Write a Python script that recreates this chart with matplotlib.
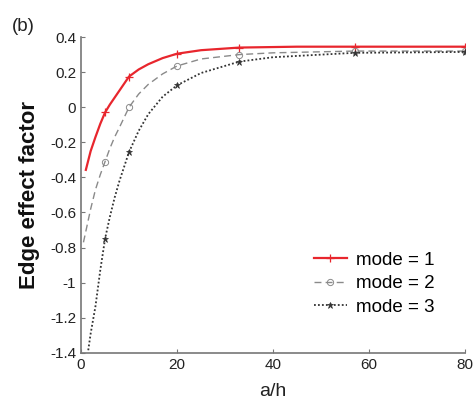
import matplotlib
matplotlib.use("Agg")
import matplotlib.pyplot as plt

plt.rcParams["font.family"] = ["Liberation Sans", "DejaVu Sans"]

# values
x_mode1 = [1, 2, 3, 4, 5, 6, 7, 8, 10, 12, 14, 17, 20, 25, 33, 45, 57, 80]
y_mode1 = [-0.357, -0.25, -0.17, -0.095, -0.03, 0.015, 0.055, 0.095, 0.175, 0.215, 0.245, 0.28, 0.305, 0.325, 0.34, 0.345, 0.345, 0.345]
x_mode2 = [0.5, 2, 3, 4, 5, 6, 7, 8, 10, 12, 14, 17, 20, 25, 33, 40, 57, 80]
y_mode2 = [-0.77, -0.58, -0.47, -0.385, -0.31, -0.235, -0.17, -0.115, 0.0, 0.075, 0.13, 0.19, 0.235, 0.275, 0.30, 0.31, 0.32, 0.32]
x_mode3 = [1.5, 2, 3, 4, 5, 6, 7, 8, 10, 12, 14, 17, 20, 25, 33, 40, 57, 80]
y_mode3 = [-1.385, -1.29, -1.135, -0.93, -0.75, -0.625, -0.515, -0.42, -0.255, -0.135, -0.04, 0.06, 0.125, 0.195, 0.26, 0.285, 0.31, 0.315]
marker_idx = [4, 8, 12, 14, 16, 17]

xticks = [0, 20, 40, 60, 80]
yticks = [0.4, 0.2, 0, -0.2, -0.4, -0.6, -0.8, -1, -1.2, -1.4]

fig = plt.figure(figsize=(4.74, 4.07), dpi=100)
ax = fig.add_axes([0.171, 0.133, 0.81, 0.776])

ax.plot(x_mode1, y_mode1, color="#e8262d", lw=1.6, marker="+", ms=6, mew=0.9,
        markevery=marker_idx, label="mode = 1")
ax.plot(x_mode2, y_mode2, color="#8a8a8a", lw=1.0, ls=(0, (5, 3)), marker="o", ms=4.5,
        mfc="none", mew=0.7, markevery=marker_idx, label="mode = 2")
ax.plot(x_mode3, y_mode3, color="#333333", lw=1.3, ls=(0, (1, 1.2)), marker="*", ms=5,
        mew=0.5, markevery=marker_idx, label="mode = 3")

ax.set_xlim(0, 80)
ax.set_ylim(-1.4, 0.4)
ax.set_xticks(xticks)
ax.set_xticklabels([str(v) for v in xticks])
ax.set_yticks(yticks)
ax.set_yticklabels(["0.4", "0.2", "0", "-0.2", "-0.4", "-0.6", "-0.8", "-1", "-1.2", "-1.4"])
ax.tick_params(direction="in", length=3, labelsize=11, colors="#777777", labelcolor="#222222")

for side in ["top", "right"]:
    ax.spines[side].set_visible(False)
for side in ["left", "bottom"]:
    ax.spines[side].set_color("#777777")
    ax.spines[side].set_linewidth(1.2)

ax.set_xlabel("a/h", fontsize=14, color="#222222", labelpad=8)
ax.set_ylabel("Edge effect factor", fontsize=16, fontweight="bold", color="#111111", labelpad=7)

ax.legend(loc="lower right", bbox_to_anchor=(0.955, 0.075), frameon=False, fontsize=13.5,
          handlelength=1.75, handletextpad=0.5, labelspacing=0.35, borderpad=0.2)

fig.text(0.025, 0.925, "(b)", fontsize=13.5, color="#222222")

fig.savefig("out.png", dpi=100)
